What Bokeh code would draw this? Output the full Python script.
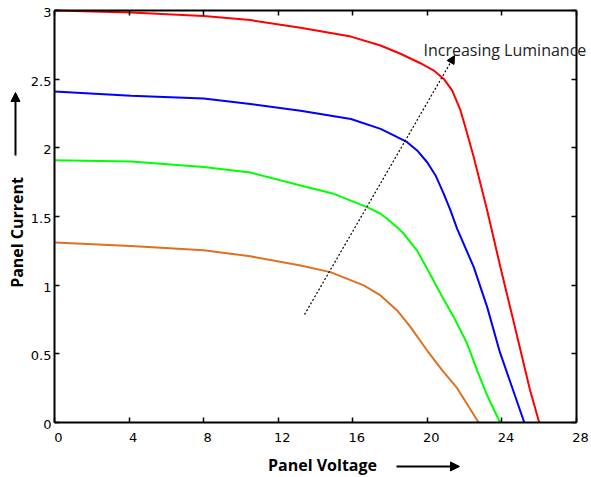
import math
from bokeh.plotting import figure
from bokeh.models import (Range1d, LinearAxis, FixedTicker, Label, LabelSet,
                          ColumnDataSource, Arrow, NormalHead)
from bokeh.core.properties import value
from bokeh.embed import file_html
from bokeh.resources import INLINE

# ---- data ----
red_v = [0, 4.1, 8, 10.5, 13.2, 15.9, 17.49, 18.56, 19.63, 20.35, 20.88, 21.33, 21.78,
         22.14, 22.49, 22.85, 23.21, 23.92, 24.6, 25.5, 26.0]
red_i = [3.0, 2.985, 2.96, 2.93, 2.875, 2.81, 2.745, 2.685, 2.616, 2.563, 2.502, 2.418, 2.272,
         2.102, 1.932, 1.738, 1.544, 1.131, 0.75, 0.24, 0.0]

blue_v = [0, 4.1, 8, 10.5, 13.2, 15.9, 17.49, 18.20, 18.92, 19.45, 19.99, 20.44, 20.88,
          21.24, 21.6, 22.49, 23.21, 23.89, 24.6, 25.2]
blue_i = [2.41, 2.38, 2.36, 2.32, 2.27, 2.21, 2.138, 2.090, 2.041, 1.981, 1.895, 1.799, 1.665,
          1.544, 1.41, 1.131, 0.84, 0.512, 0.235, 0.0]

green_v = [0, 4.1, 8, 10.5, 13.2, 14.98, 16.77, 17.49, 17.84, 18.47, 18.74, 19.45, 19.99,
           20.71, 21.42, 22.14, 22.67, 23.2, 23.9]
green_i = [1.91, 1.90, 1.86, 1.82, 1.726, 1.665, 1.568, 1.520, 1.483, 1.41, 1.374, 1.252, 1.119,
           0.937, 0.767, 0.573, 0.379, 0.2, 0.0]

orange_v = [0, 4.1, 8, 10.5, 13.2, 14.8, 16.59, 17.49, 18.38, 19.10, 19.99, 20.80, 21.6, 22.75]
orange_i = [1.31, 1.285, 1.255, 1.21, 1.143, 1.095, 0.998, 0.925, 0.816, 0.694, 0.524, 0.379, 0.25, 0.0]

x_ticks = [0, 4, 8, 12, 16, 20, 24, 28]
x_tick_labels = ["0", "4", "8", "12", "16", "20", "24", "28"]
y_ticks = [0, 0.5, 1, 1.5, 2, 2.5, 3]
y_tick_labels = ["0", "0.5", "1", "1.5", "2", "2.5", "3"]

x_title = "Panel Voltage"
y_title = "Panel Current"
note = "Increasing Luminance"

XMIN, XMAX, YMIN, YMAX = 0, 28, 0, 3

# ---- layout: the frame covers the whole canvas; axes sit at fixed data positions ----
W, H = 591, 477
BOX_L, BOX_R, BOX_T, BOX_B = 54, 576, 10, 422
sx = (BOX_R - BOX_L) / (XMAX - XMIN)
sy = (BOX_B - BOX_T) / (YMAX - YMIN)
X0 = XMIN - BOX_L / sx
X1 = X0 + W / sx
Y1 = YMAX + BOX_T / sy
Y0 = Y1 - H / sy

p = figure(width=W, height=H, output_backend="svg", toolbar_location=None,
           x_range=Range1d(X0, X1), y_range=Range1d(Y0, Y1), min_border=0,
           x_axis_location=None, y_axis_location=None)
p.grid.visible = False
p.outline_line_color = None
p.background_fill_color = "white"
p.border_fill_color = "white"

def make_axis(ticks, loc, bounds):
    ax = LinearAxis(ticker=FixedTicker(ticks=ticks), fixed_location=loc, bounds=bounds)
    ax.major_tick_in = 5
    ax.major_tick_out = 0
    ax.minor_tick_in = 0
    ax.minor_tick_out = 0
    ax.axis_line_color = "black"
    ax.axis_line_width = 2
    ax.major_tick_line_color = "black"
    ax.major_tick_line_width = 1.5
    ax.major_label_text_font_size = "1px"
    ax.major_label_text_color = None
    ax.major_label_standoff = 0
    return ax

p.add_layout(make_axis(x_ticks, YMIN, (XMIN, XMAX)), "below")
p.add_layout(make_axis(y_ticks, XMIN, (YMIN, YMAX)), "left")
p.add_layout(make_axis(x_ticks, YMAX, (XMIN, XMAX)), "above")
p.add_layout(make_axis(y_ticks, XMAX, (YMIN, YMAX)), "right")

# ---- curves ----
p.line(red_v, red_i, line_color="#FF0000", line_width=2)
p.line(blue_v, blue_i, line_color="#0000FF", line_width=2)
p.line(green_v, green_i, line_color="#00FF00", line_width=2)
p.line(orange_v, orange_i, line_color="#E0701F", line_width=2)

# ---- tick labels ----
tick_font = "DejaVu Sans"
xs_src = ColumnDataSource(dict(x=x_ticks, y=[YMIN] * len(x_ticks), t=x_tick_labels))
p.add_layout(LabelSet(x="x", y="y", text="t", source=xs_src, x_offset=4, y_offset=-15,
                      text_align="center", text_baseline="middle",
                      text_font=value(tick_font), text_font_size="13px", text_color="black"))
ys_src = ColumnDataSource(dict(x=[XMIN] * len(y_ticks), y=y_ticks, t=y_tick_labels))
p.add_layout(LabelSet(x="x", y="y", text="t", source=ys_src, x_offset=-3, y_offset=-2,
                      text_align="right", text_baseline="middle",
                      text_font=value(tick_font), text_font_size="13px", text_color="black"))

# ---- axis titles with arrows ----
p.add_layout(Label(x=14.375, y=-0.313, text=x_title, text_align="center", text_baseline="middle",
                   text_font="Open Sans", text_font_style="bold", text_font_size="16px",
                   text_color="black"))
p.add_layout(Label(x=-1.985, y=1.384, text=y_title, angle=math.pi / 2, angle_units="rad",
                   text_align="center", text_baseline="middle",
                   text_font="Open Sans", text_font_style="bold", text_font_size="16px",
                   text_color="black"))

p.add_layout(Arrow(end=NormalHead(size=9, fill_color="black", line_color="black"),
                   x_start=18.345, y_start=-0.320, x_end=21.724, y_end=-0.320,
                   line_color="black", line_width=2))
p.add_layout(Arrow(end=NormalHead(size=9, fill_color="black", line_color="black"),
                   x_start=-2.092, y_start=1.944, x_end=-2.092, y_end=2.403,
                   line_color="black", line_width=2))

# ---- luminance arrow + note ----
p.add_layout(Arrow(end=NormalHead(size=8, fill_color="black", line_color="black", line_width=1),
                   x_start=13.41, y_start=0.786, x_end=21.46, y_end=2.672,
                   line_color="black", line_width=1.2, line_dash="2 2"))
p.add_layout(Label(x=19.79, y=2.709, text=note, text_align="left", text_baseline="alphabetic",
                   text_font="Open Sans", text_font_size="16px", text_color="#222222"))

open("out.html", "w").write(file_html(p, INLINE))
